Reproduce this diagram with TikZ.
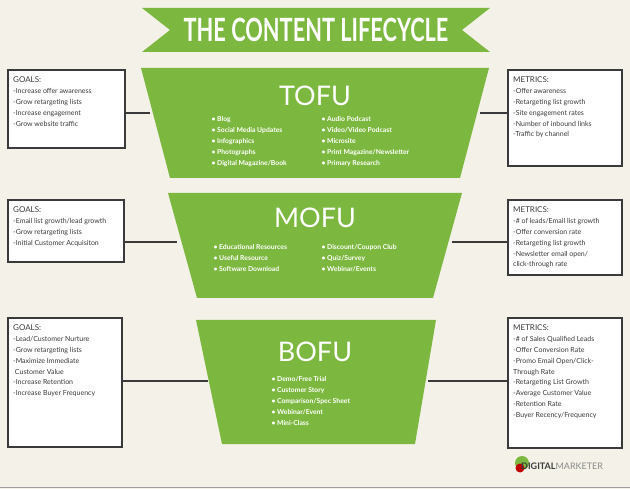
\documentclass[tikz,border=0pt]{standalone}
\usepackage{fontspec}
\setmainfont{Lato}
\usetikzlibrary{positioning}
\definecolor{cream}{HTML}{F4F2E8}
\definecolor{leaf}{HTML}{7CB83F}
\definecolor{ink}{HTML}{3A3A3A}
\tikzset{
    stage/.style={fill=leaf, draw=none},
    box/.style={draw=ink, line width=1.2pt, fill=white},
    link/.style={draw=ink, line width=1.2pt},
    head/.style={text=white, font=\fontsize{27}{27}\selectfont},
    item/.style={text=white, font=\fontsize{6.8}{11}\selectfont\bfseries, align=left, anchor=north west},
    note/.style={text=ink, font=\fontsize{7}{10.8}\selectfont, align=left, anchor=north west, inner sep=1pt},
}
\begin{document}
\begin{tikzpicture}[x=1pt,y=-1pt]
    \useasboundingbox (0,0) rectangle (630,489);
    \fill[cream] (0,0) rectangle (630,489);
    \draw[ink!50, line width=1pt] (0,487) -- (630,487);

    % banner
    \fill[leaf] (142,8) -- (490,8) -- (462,30) -- (490,52) -- (142,52) -- (170,30) -- cycle;
    \node[text=white, font=\fontsize{32}{32}\selectfont\bfseries] (title) at (316,30)
        {\scalebox{0.68}[1]{THE CONTENT LIFECYCLE}};

    % funnel stages
    \fill[stage] (141,68) -- (489,68) -- (460,178) -- (170,178) -- cycle;
    \fill[stage] (168,193) -- (462,193) -- (433,298) -- (197,298) -- cycle;
    \fill[stage] (196,320) -- (436,320) -- (415,444) -- (222,444) -- cycle;
    \coordinate (tofuL) at (150,113);  \coordinate (tofuR) at (480,113);
    \coordinate (mofuL) at (177,242);  \coordinate (mofuR) at (452,242);
    \coordinate (bofuL) at (208,381);  \coordinate (bofuR) at (428,381);

    \node[head] (tofu) at (315,96) {TOFU};
    \node[head] (mofu) at (315,218) {MOFU};
    \node[head] (bofu) at (315,352) {BOFU};

    \node[item] (tofua) at (208,113) {• Blog\\• Social Media Updates\\• Infographics\\• Photographs\\• Digital Magazine/Book};
    \node[item] (tofub) at (318,113) {• Audio Podcast\\• Video/Video Podcast\\• Microsite\\• Print Magazine/Newsletter\\• Primary Research};
    \node[item] (mofua) at (210,241) {• Educational Resources\\• Useful Resource\\• Software Download};
    \node[item] (mofub) at (318,241) {• Discount/Coupon Club\\• Quiz/Survey\\• Webinar/Events};
    \node[item] (bofua) at (268,373) {• Demo/Free Trial\\• Customer Story\\• Comparison/Spec Sheet\\• Webinar/Event\\• Mini-Class};

    % goals
    \draw[box] (8,70) rectangle (125,148);
    \draw[box] (8,200) rectangle (124,262);
    \draw[box] (8,318) rectangle (122,447);
    \node[note] (goal1) at (12,76) {\fontsize{8}{12}\selectfont GOALS:\\-Increase offer awareness\\-Grow retargeting lists\\-Increase engagement\\-Grow website traffic};
    \node[note] (goal2) at (12,206) {\fontsize{8}{12}\selectfont GOALS:\\-Email list growth/lead growth\\-Grow retargeting lists\\-Initial Customer Acquisiton};
    \node[note] (goal3) at (12,324) {\fontsize{8}{12}\selectfont GOALS:\\-Lead/Customer Nurture\\-Grow retargeting lists\\-Maximize Immediate\\ \ Customer Value\\-Increase Retention\\-Increase Buyer Frequency};

    % metrics
    \draw[box] (508,70) rectangle (622,166);
    \draw[box] (508,200) rectangle (622,275);
    \draw[box] (508,318) rectangle (622,448);
    \node[note] (met1) at (512,76) {\fontsize{8}{12}\selectfont METRICS:\\-Offer awareness\\-Retargeting list growth\\-Site engagement rates\\-Number of inbound links\\-Traffic by channel};
    \node[note] (met2) at (512,206) {\fontsize{8}{12}\selectfont METRICS:\\-\# of leads/Email list growth\\-Offer conversion rate\\-Retargeting list growth\\-Newsletter email open/\\click-through rate};
    \node[note] (met3) at (512,324) {\fontsize{8}{12}\selectfont METRICS:\\-\# of Sales Qualified Leads\\-Offer Conversion Rate\\-Promo Email Open/Click-\\ Through Rate\\-Retargeting List Growth\\-Average Customer Value\\-Retention Rate\\-Buyer Recency/Frequency};

    % connectors
    \coordinate (g1) at (125,113); \coordinate (g2) at (124,242); \coordinate (g3) at (122,381);
    \coordinate (m1) at (508,113); \coordinate (m2) at (508,242); \coordinate (m3) at (508,381);
    \draw[link] (g1) -- (tofuL);  \draw[link] (tofuR) -- (m1);
    \draw[link] (g2) -- (mofuL);  \draw[link] (mofuR) -- (m2);
    \draw[link] (g3) -- (bofuL);  \draw[link] (bofuR) -- (m3);

    % logo
    \fill[leaf] (522,463) circle (7);
    \fill[red!75!black] (520,468) circle (4.5);
    \node[anchor=west, inner sep=0, font=\fontsize{9}{9}\selectfont] (logo) at (521,466)
        {\textcolor{ink}{\bfseries DIGITAL}\textcolor{ink!60}{MARKETER}};
\end{tikzpicture}
\end{document}
